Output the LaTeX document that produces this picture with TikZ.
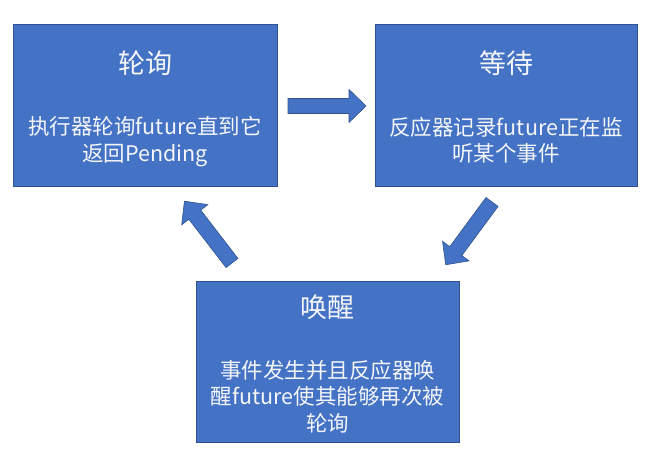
\documentclass[tikz,border=0pt]{standalone}
\usepackage{fontspec}
\newfontfamily\cjk{Noto Sans CJK SC}
\definecolor{boxblue}{HTML}{4472C4}
\definecolor{boxedge}{HTML}{2F528F}
\definecolor{txt}{HTML}{F4F6FA}
\tikzset{
  stagebox/.style={draw=boxedge, line width=0.8pt, fill=boxblue, inner sep=0pt},
  titletext/.style={text=txt, font=\cjk\fontsize{27}{32}\selectfont, inner sep=0pt},
  bodytext/.style={text=txt, font=\cjk\fontsize{21.5}{26.5}\selectfont, align=center, inner sep=0pt},
  arrowstyle/.style={draw=boxedge, line width=0.6pt, fill=boxblue, line join=miter},
  blockarrow/.pic={
    \path[arrowstyle] (0,-7.5) -- (61,-7.5) -- (61,-16.5) -- (78,0) -- (61,16.5) -- (61,7.5) -- (0,7.5) -- cycle;
  }
}
\begin{document}
\begin{tikzpicture}[x=1pt,y=1pt]
\useasboundingbox (0,0) rectangle (648,462);
% boxes
\node[stagebox, minimum width=264pt, minimum height=162pt] (b1) at (145,357) {};
\node[stagebox, minimum width=262pt, minimum height=162pt] (b2) at (506,357) {};
\node[stagebox, minimum width=263pt, minimum height=161pt] (b3) at (327.5,100.5) {};
% titles
\node[titletext] (t1) at (145,399) {轮询};
\node[titletext] (t2) at (506,399) {等待};
\node[titletext] (t3) at (327.5,155) {唤醒};
% bodies
\node[bodytext] (d1) at (145,320.5) {执行器轮询future直到它\\返回Pending};
\node[bodytext] (d2) at (506,321.5) {反应器记录future正在监\\听某个事件};
\node[bodytext] (d3) at (327.5,65.5) {事件发生并且反应器唤\\醒future使其能够再次被\\轮询};
% block arrows
\pic at (288,356) {blockarrow};
\pic[rotate=127.6] at (232,199) {blockarrow};
\pic[rotate=233.6] at (492,260) {blockarrow};
\end{tikzpicture}
\end{document}
